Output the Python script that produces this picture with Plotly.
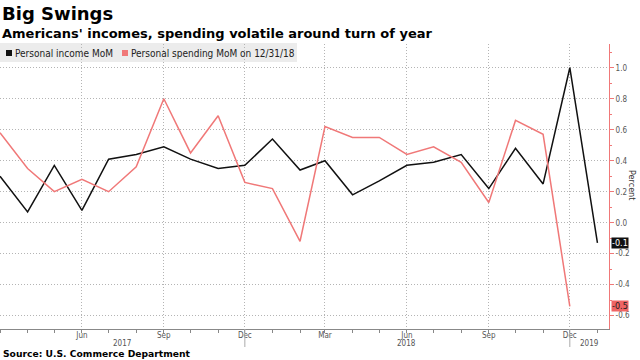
import plotly.graph_objects as go

months = ["2017-03-01", "2017-04-01", "2017-05-01", "2017-06-01", "2017-07-01", "2017-08-01",
          "2017-09-01", "2017-10-01", "2017-11-01", "2017-12-01", "2018-01-01", "2018-02-01",
          "2018-03-01", "2018-04-01", "2018-05-01", "2018-06-01", "2018-07-01", "2018-08-01",
          "2018-09-01", "2018-10-01", "2018-11-01", "2018-12-01", "2019-01-01"]
income = [0.30, 0.07, 0.37, 0.08, 0.41, 0.44, 0.49, 0.41, 0.35, 0.37, 0.54, 0.34,
          0.40, 0.18, 0.27, 0.37, 0.39, 0.44, 0.22, 0.48, 0.25, 1.00, -0.13]
spending = [0.58, 0.35, 0.20, 0.28, 0.20, 0.36, 0.80, 0.45, 0.69, 0.26, 0.22, -0.12,
            0.62, 0.55, 0.55, 0.44, 0.49, 0.39, 0.13, 0.66, 0.57, -0.54]

tick_dates = ["2017-06-01", "2017-09-01", "2017-12-01", "2018-03-01", "2018-06-01",
              "2018-09-01", "2018-12-01"]
tick_text = ["Jun", "Sep", "Dec", "Mar", "Jun", "Sep", "Dec"]
year_labels = ["2017", "2018", "2019"]
year_pos = ["2017-07-16", "2018-06-01", "2018-12-23"]
year_breaks = ["2017-12-01", "2018-12-01"]

y_ticks = [-0.6, -0.4, -0.2, 0.0, 0.2, 0.4, 0.6, 0.8, 1.0]
y_text = [f"{v:.1f}" for v in y_ticks]

INCOME_NAME = "Personal income MoM"
SPEND_NAME = "Personal spending MoM on 12/31/18"
BLACK = "#111111"
RED = "#f07878"
GRID = "#b4b4b4"
FONT = "DejaVu Sans Condensed, DejaVu Sans, sans-serif"

W, H = 640, 360
L, R, T, B = 0, 31, 44, 31
PW, PH = W - L - R, H - T - B


def px(xp):
    return (xp - L) / PW


def py(yp):
    return (H - B - yp) / PH


fig = go.Figure()
fig.add_trace(go.Scatter(x=months, y=income, mode="lines", name=INCOME_NAME,
                         line=dict(color=BLACK, width=1.5), showlegend=False))
fig.add_trace(go.Scatter(x=months[:len(spending)], y=spending, mode="lines", name=SPEND_NAME,
                         line=dict(color=RED, width=1.5), showlegend=False))

shapes = []
shapes.append(dict(type="rect", xref="paper", yref="paper", x0=px(0), x1=px(297),
                   y0=py(62), y1=py(43), fillcolor="#ececec", line=dict(width=0), layer="below"))
shapes.append(dict(type="rect", xref="paper", yref="paper", x0=px(6), x1=px(12),
                   y0=py(56), y1=py(50), fillcolor=BLACK, line=dict(width=0)))
shapes.append(dict(type="rect", xref="paper", yref="paper", x0=px(122), x1=px(128),
                   y0=py(56), y1=py(50), fillcolor=RED, line=dict(width=0)))
for d in year_breaks:
    shapes.append(dict(type="line", xref="x", yref="paper", x0=d, x1=d, y0=0, y1=py(347),
                       line=dict(color="#aaaaaa", width=1)))

annotations = [
    dict(text="<b>Big Swings</b>", xref="paper", yref="paper", x=px(0), y=py(13),
         xanchor="left", yanchor="middle", showarrow=False,
         font=dict(family="DejaVu Sans", size=18, color="#000")),
    dict(text="<b>Americans' incomes, spending volatile around turn of year</b>",
         xref="paper", yref="paper", x=px(0), y=py(33), xanchor="left", yanchor="middle",
         showarrow=False, font=dict(family="DejaVu Sans", size=13, color="#000")),
    dict(text="<b>Source: U.S. Commerce Department</b>", xref="paper", yref="paper",
         x=px(1), y=py(353), xanchor="left", yanchor="middle", showarrow=False,
         font=dict(family="DejaVu Sans", size=9.2, color="#000")),
    dict(text=INCOME_NAME, xref="paper", yref="paper", x=px(13), y=py(53),
         xanchor="left", yanchor="middle", showarrow=False,
         font=dict(family=FONT, size=10, color="#222")),
    dict(text=SPEND_NAME, xref="paper", yref="paper", x=px(129), y=py(53),
         xanchor="left", yanchor="middle", showarrow=False,
         font=dict(family=FONT, size=10, color="#222")),
    dict(text="Percent", xref="paper", yref="paper", x=px(632), y=py(185),
         xanchor="center", yanchor="middle", showarrow=False, textangle=90,
         font=dict(family=FONT, size=9, color="#333")),
    dict(text=f"{income[-1]:.1f}", xref="paper", yref="y", x=1, y=income[-1],
         xanchor="left", yanchor="middle", xshift=2, showarrow=False, bgcolor=BLACK,
         borderpad=0, font=dict(family=FONT, size=9, color="#ffffff")),
    dict(text=f"{spending[-1]:.1f}", xref="paper", yref="y", x=1, y=spending[-1],
         xanchor="left", yanchor="middle", xshift=2, showarrow=False, bgcolor="#f06464",
         borderpad=0, font=dict(family=FONT, size=9, color="#222")),
]
for lab, pos in zip(year_labels, year_pos):
    annotations.append(dict(text=lab, xref="x", yref="paper", x=pos, y=py(343.5),
                            xanchor="center", yanchor="middle", showarrow=False,
                            font=dict(family=FONT, size=8, color="#555")))

fig.update_layout(
    width=W, height=H, margin=dict(l=L, r=R, t=T, b=B, autoexpand=False),
    paper_bgcolor="white", plot_bgcolor="white",
    shapes=shapes, annotations=annotations,
    font=dict(family=FONT, size=8, color="#555"),
    xaxis=dict(type="date", range=["2017-03-01", "2019-01-14"], automargin=False,
               tickvals=tick_dates, ticktext=tick_text, ticklabelstandoff=-5,
               showgrid=True, gridcolor=GRID, griddash="1px,2px", gridwidth=1,
               showline=True, linecolor="#888888", linewidth=1,
               ticks="outside", ticklen=3, tickcolor="#888888",
               tickfont=dict(family=FONT, size=8, color="#555"),
               minor=dict(ticks="outside", ticklen=3, tickcolor="#888888",
                          dtick="M1", tick0="2017-03-01", showgrid=False),
               zeroline=False),
    yaxis=dict(side="right", range=[-0.686, 1.153], automargin=False,
               tickvals=y_ticks, ticktext=y_text,
               showgrid=True, gridcolor=GRID, griddash="1px,2px", gridwidth=1,
               showline=True, linecolor=RED, linewidth=1,
               ticks="outside", ticklen=4, tickcolor=RED,
               tickfont=dict(family=FONT, size=8, color="#555"),
               minor=dict(ticks="outside", ticklen=2, tickcolor=RED, dtick=0.1,
                          tick0=0, showgrid=False),
               zeroline=False),
)

fig.write_html("out.html", config={"displayModeBar": False},
               post_script="document.body.style.margin='0';document.body.style.overflow='hidden';")
